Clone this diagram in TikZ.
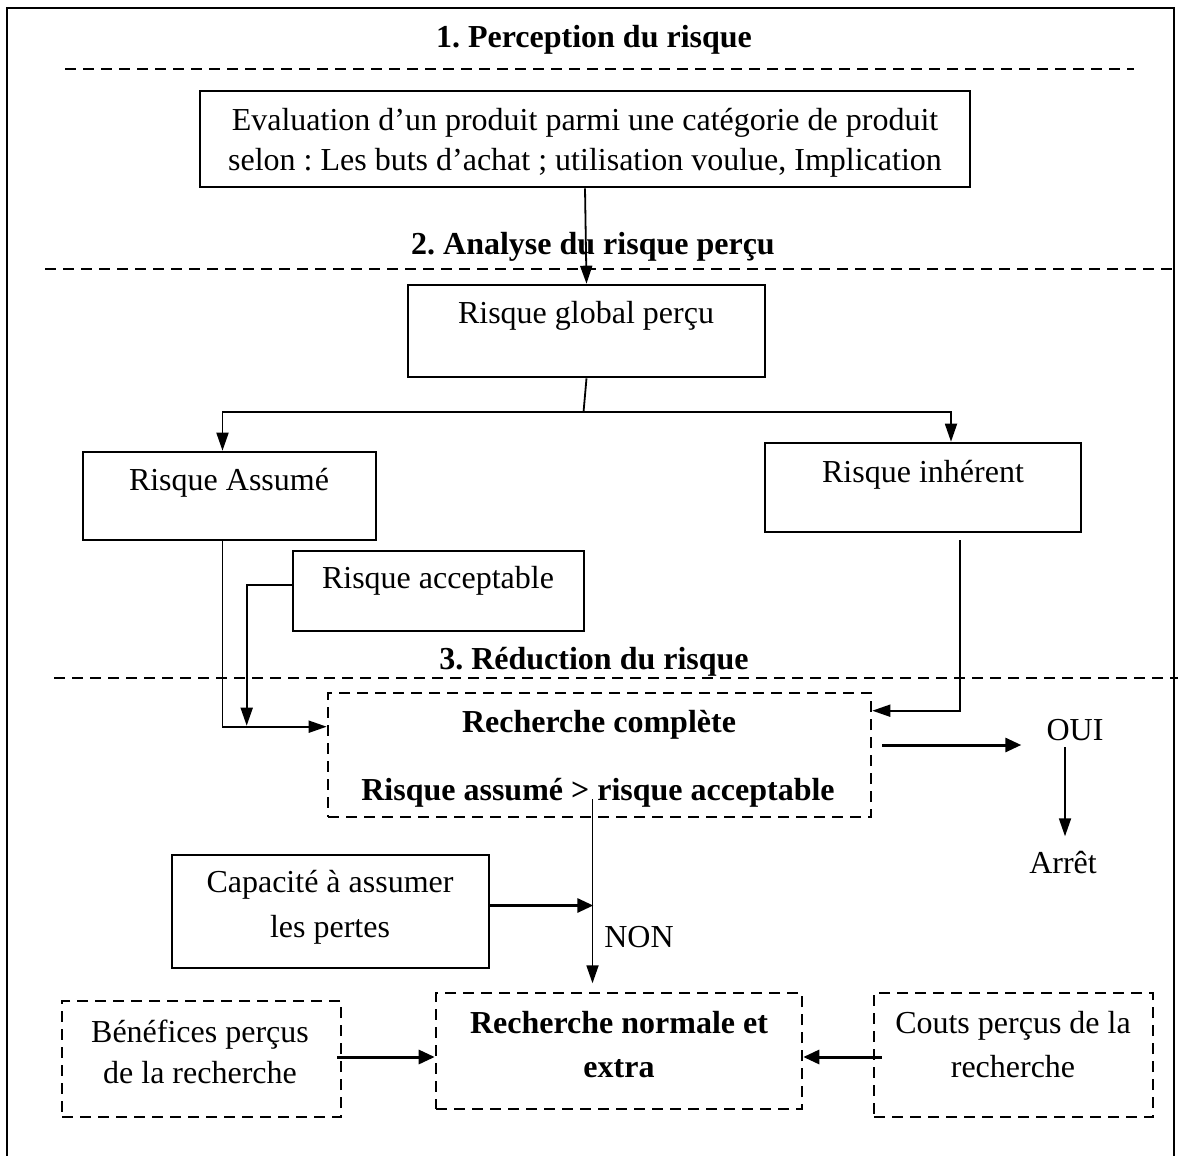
\documentclass[tikz,border=0pt]{standalone}
\usepackage{fontspec}
\setmainfont{Liberation Serif}
\frenchspacing
\usetikzlibrary{arrows.meta,fit,calc}
\begin{document}
\begin{tikzpicture}[x=0.5pt,y=-0.5pt,
 box/.style={draw, line width=1.3pt, inner sep=0pt},
 dbox/.style={draw, line width=1.3pt, dash pattern=on 5.5pt off 3.5pt, inner sep=0pt},
 txt/.style={font=\fontsize{16}{20}\selectfont, inner sep=0pt, align=center},
 btxt/.style={font=\fontsize{16}{20}\selectfont\bfseries, inner sep=0pt, align=center},
 sep/.style={line width=1.3pt, dash pattern=on 5.5pt off 3.5pt},
 arr/.style={line width=0.9pt, -{Triangle[length=9pt,width=6pt]}},
 arrb/.style={line width=1.5pt, -{Triangle[length=8pt,width=7pt]}},
 ln/.style={line width=0.9pt}]
\useasboundingbox (0,0) rectangle (1178,1156);
\draw[line width=1pt] (7,1165) -- (7,8) -- (1174,8) -- (1174,1165);

% titles and separators
\node[btxt] (t1) at (594,40) {1. Perception du risque};
\draw[sep] (65,69) -- (1134,69);
\node[btxt] (t2) at (593,247) {2. Analyse du risque perçu};
\draw[sep] (45,269) -- (1178,269);
\node[btxt] (t3) at (594,662) {3. Réduction du risque};
\draw[sep] (54,678) -- (1178,678);

% boxes
\node[box, fit={(200,91) (970,187)}] (eval) {};
\node[txt] at (585,143) {Evaluation d’un produit parmi une catégorie de produit\\selon : Les buts d’achat ; utilisation voulue, Implication};

\node[box, fit={(408,285) (765,377)}] (glob) {};
\node[txt] at (586,316) {Risque global perçu};

\node[box, fit={(83,452) (376,540)}] (assume) {};
\node[txt] at (229,483) {Risque Assumé};

\node[box, fit={(765,443) (1081,532)}] (inh) {};
\node[txt] at (923,475) {Risque inhérent};

\node[box, fit={(293,551) (584,631)}] (accept) {};
\node[txt] at (438,581) {Risque acceptable};

\node[dbox, fit={(328,693) (871,817)}] (rc) {};
\node[btxt] at (599,725) {Recherche complète};
\node[btxt] at (598,793) {Risque assumé > risque acceptable};

\node[txt] (oui) at (1075,730) {OUI};
\node[txt] (arret) at (1063,863) {Arrêt};

\node[box, fit={(172,855) (489,968)}] (cap) {};
\node[txt, font=\fontsize{16}{22.5}\selectfont] at (330,907) {Capacité à assumer\\les pertes};
\node[txt] (non) at (639,937) {NON};

\node[dbox, fit={(62,1001) (341,1117)}] (bene) {};
\node[txt, font=\fontsize{16}{20.5}\selectfont] at (200,1052) {Bénéfices perçus\\de la recherche};

\node[dbox, fit={(436,993) (802,1109)}] (rn) {};
\node[btxt, font=\fontsize{16}{22}\selectfont\bfseries] at (619,1045) {Recherche normale et\\extra};

\node[dbox, fit={(874,993) (1153,1117)}] (couts) {};
\node[txt, font=\fontsize{16}{22}\selectfont] at (1013,1045) {Couts perçus de la\\recherche};

% connectors
\draw[arr] (eval.south) -- (glob.north);
\coordinate (split) at ($(glob.south)+(-3,34)$);
\draw[ln] (glob.south) -- (split);
\draw[arr] (split) -| ($(assume.north)+(-7,0)$);
\draw[arr] (split) -| ($(inh.north)+(28,0)$);
\draw[arr] ($(assume.south)+(-7,0)$) |- ($(rc.north west)+(0,35)$);
\draw[arr] ($(accept.north west)+(0,35)$) -| ($(rc.north west)+(-80,34)$);
\draw[arr] ($(inh.south)+(37,7)$) |- ($(rc.north east)+(0,19)$);
\draw[arrb] ($(rc.east)+(10,-10)$) -- ++(139,0);
\draw[arr] ($(oui.south)+(-10,6)$) -- ($(arret.north)+(2,-15)$);
\coordinate (drop) at ($(rc.south)+(-7,165)$);
\draw[arr] ($(rc.south)+(-7,-19)$) -- (drop);
\draw[arrb] ($(cap.east)+(0,-6)$) -- ($(cap.east)+(103,-6)$);
\draw[arrb] ($(bene.east)+(-5,-2)$) -- ($(rn.west)+(0,6)$);
\draw[arrb] ($(couts.west)+(9,2)$) -- ($(rn.east)+(0,6)$);
\end{tikzpicture}
\end{document}
